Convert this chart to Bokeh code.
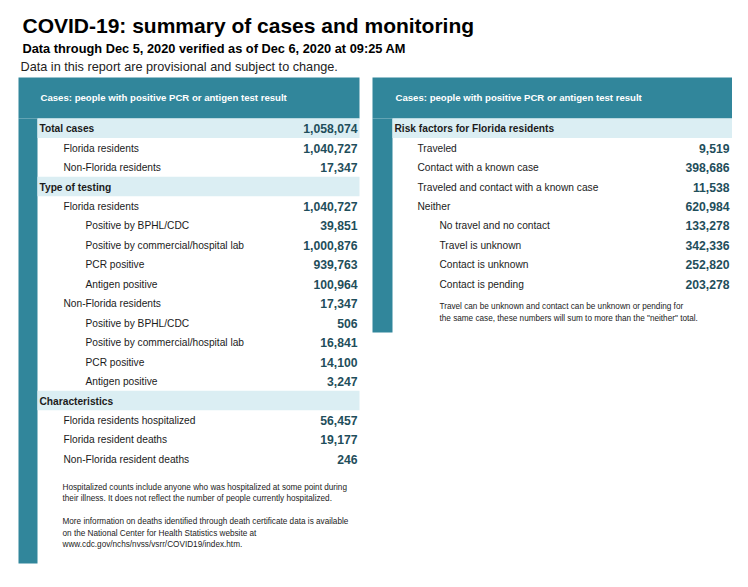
from bokeh.plotting import figure
from bokeh.models import Range1d, ColumnDataSource
from bokeh.core.properties import value
from bokeh.embed import file_html
from bokeh.resources import INLINE

# ---------------- data ----------------
title_text = "COVID-19: summary of cases and monitoring"
subtitle_text = "Data through Dec 5, 2020 verified as of Dec 6, 2020 at 09:25 AM"
disclaimer_text = "Data in this report are provisional and subject to change."
panel_header = "Cases: people with positive PCR or antigen test result"

left_labels = ["Total cases", "Florida residents", "Non-Florida residents",
               "Type of testing", "Florida residents", "Positive by BPHL/CDC",
               "Positive by commercial/hospital lab", "PCR positive", "Antigen positive",
               "Non-Florida residents", "Positive by BPHL/CDC",
               "Positive by commercial/hospital lab", "PCR positive", "Antigen positive",
               "Characteristics", "Florida residents hospitalized",
               "Florida resident deaths", "Non-Florida resident deaths"]
left_values = [1058074, 1040727, 17347, None, 1040727, 39851, 1000876, 939763, 100964,
               17347, 506, 16841, 14100, 3247, None, 56457, 19177, 246]
left_levels = [0, 1, 1, 0, 1, 2, 2, 2, 2, 1, 2, 2, 2, 2, 0, 1, 1, 1]

right_labels = ["Risk factors for Florida residents", "Traveled", "Contact with a known case",
                "Traveled and contact with a known case", "Neither",
                "No travel and no contact", "Travel is unknown", "Contact is unknown",
                "Contact is pending"]
right_values = [None, 9519, 398686, 11538, 620984, 133278, 342336, 252820, 203278]
right_levels = [0, 1, 1, 1, 1, 2, 2, 2, 2]

left_notes = [["Hospitalized counts include anyone who was hospitalized at some point during",
               "their illness. It does not reflect the number of people currently hospitalized."],
              ["More information on deaths identified through death certificate data is available",
               "on the National Center for Health Statistics website at",
               "www.cdc.gov/nchs/nvss/vsrr/COVID19/index.htm."]]
right_notes = [["Travel can be unknown and contact can be unknown or pending for",
                "the same case, these numbers will sum to more than the \"neither\" total."]]

# ---------------- style / layout ----------------
W, H = 732, 571
TEAL = "#31869b"
BAND = "#dbeef3"
NUM = "#1f4e5b"
TXT = "#1b1b1b"
FONT = value("Liberation Sans")
ROW_TOP = 118
ROW_H = 19.45

p = figure(width=W, height=H, output_backend="svg", toolbar_location=None,
           x_range=Range1d(0, W), y_range=Range1d(H, 0),
           min_border=0, outline_line_color=None, background_fill_color="white")
p.axis.visible = False
p.xgrid.visible = False
p.ygrid.visible = False

# titles
p.text(x=[22], y=[25], text=[title_text], text_font=FONT, text_font_style="bold",
       text_font_size="21px", text_color="#000000", text_baseline="middle")
p.text(x=[22], y=[47.5], text=[subtitle_text], text_font=FONT, text_font_style="bold",
       text_font_size="12.8px", text_color="#000000", text_baseline="middle")
p.text(x=[20], y=[66.5], text=[disclaimer_text], text_font=FONT,
       text_font_size="12.7px", text_color="#222222", text_baseline="middle")


def panel(labels, values, levels, notes, x0, x1, strip_x1, label_x, num_x, header_x,
          bottom, notes_x, notes_y):
    # teal header and strip
    p.quad(left=[x0, x0], right=[x1, strip_x1], top=[77, ROW_TOP], bottom=[ROW_TOP, bottom],
           fill_color=TEAL, line_color=None)
    p.text(x=[header_x], y=[96.5], text=[panel_header], text_font=FONT, text_font_style="bold",
           text_font_size="9.6px", text_color="white", text_baseline="middle")
    n = len(labels)
    tops = [ROW_TOP + i * ROW_H for i in range(n)]
    mids = [t + ROW_H / 2 for t in tops]
    band_idx = [i for i in range(n) if levels[i] == 0]
    p.quad(left=[strip_x1] * len(band_idx), right=[x1] * len(band_idx),
           top=[tops[i] for i in band_idx], bottom=[tops[i] + ROW_H for i in band_idx],
           fill_color=BAND, line_color=None)
    for lvl in (0, 1, 2):
        idx = [i for i in range(n) if levels[i] == lvl]
        src = ColumnDataSource(dict(x=[label_x[lvl]] * len(idx), y=[mids[i] + 0.5 for i in idx],
                                    t=[labels[i] for i in idx]))
        p.text(x="x", y="y", text="t", source=src, text_font=FONT,
               text_font_style="bold" if lvl == 0 else "normal",
               text_font_size="10.2px", text_color=TXT, text_baseline="middle")
    vidx = [i for i in range(n) if values[i] is not None]
    vsrc = ColumnDataSource(dict(x=[num_x] * len(vidx), y=[mids[i] + 0.5 for i in vidx],
                                 t=[f"{values[i]:,}" for i in vidx]))
    p.text(x="x", y="y", text="t", source=vsrc, text_font=FONT, text_font_style="bold",
           text_font_size="12.2px", text_color=NUM, text_align="right", text_baseline="middle")
    lines = [ln for para in notes for ln in para]
    p.text(x=[notes_x] * len(lines), y=notes_y, text=lines, text_font=FONT,
           text_font_size="8.2px", text_color=TXT, text_baseline="middle")


panel(left_labels, left_values, left_levels, left_notes, 18, 359, 37, [39, 63, 85], 357, 40,
      563, 62, [487, 498, 521, 532.5, 544])
panel(right_labels, right_values, right_levels, right_notes, 372, 732, 392, [394, 417, 439],
      729, 395, 332, 439, [306, 317.5])

open("out.html", "w").write(file_html(p, INLINE))
